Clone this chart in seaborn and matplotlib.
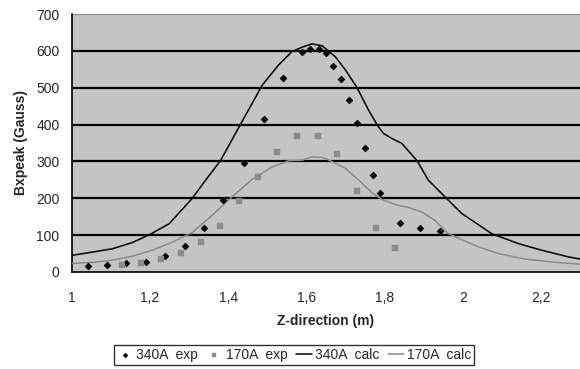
import numpy as np
import pandas as pd
import matplotlib
matplotlib.use("Agg")
import matplotlib.pyplot as plt
import seaborn as sns
from matplotlib.ticker import FuncFormatter, MultipleLocator

# --- data ---
exp340_z = [1.04, 1.089, 1.139, 1.19, 1.238, 1.289, 1.338, 1.387, 1.44, 1.491, 1.54,
            1.589, 1.61, 1.631, 1.649, 1.669, 1.689, 1.709, 1.73, 1.75, 1.77, 1.789,
            1.839, 1.89, 1.941]
exp340_b = [16, 18, 23, 28, 43, 70, 120, 195, 296, 414, 526,
            598, 605, 605, 593, 559, 523, 468, 405, 337, 263, 215,
            134, 120, 111]

exp170_z = [1.127, 1.177, 1.229, 1.279, 1.329, 1.378, 1.427, 1.477, 1.526, 1.575,
            1.629, 1.679, 1.729, 1.778, 1.827]
exp170_b = [20, 24, 34, 52, 80, 126, 192, 258, 326, 370,
            370, 320, 219, 120, 64]

calc340_z = [1.0, 1.053, 1.104, 1.155, 1.2, 1.249, 1.308, 1.342, 1.38, 1.431, 1.487,
             1.529, 1.563, 1.589, 1.614, 1.64, 1.674, 1.7, 1.729, 1.759, 1.783, 1.797,
             1.819, 1.844, 1.883, 1.912, 1.959, 1.997, 2.074, 2.142, 2.202, 2.27, 2.3]
calc340_b = [45, 54, 63, 80, 102, 131, 200, 249, 302, 400, 507,
             562, 598, 610, 619, 614, 584, 548, 501, 439, 396, 376,
             362, 349, 302, 249, 199, 159, 104, 77, 59, 41, 35]

calc170_z = [1.0, 1.053, 1.104, 1.155, 1.2, 1.249, 1.308, 1.359, 1.41, 1.461, 1.512,
             1.555, 1.589, 1.614, 1.64, 1.661, 1.7, 1.734, 1.768, 1.793, 1.827, 1.861,
             1.895, 1.929, 1.963, 1.997, 2.04, 2.091, 2.159, 2.227, 2.3]
calc170_b = [23, 26, 32, 43, 57, 77, 107, 154, 204, 251, 285,
             302, 303, 312, 311, 302, 281, 249, 215, 197, 183, 175,
             163, 140, 104, 88, 68, 50, 35, 27, 21]

x_ticks = [1.0, 1.2, 1.4, 1.6, 1.8, 2.0, 2.2]
y_ticks = [0, 100, 200, 300, 400, 500, 600, 700]

# --- plotting ---
sns.set_style("white")
plt.rcParams["font.family"] = ["Liberation Sans", "DejaVu Sans"]

fig = plt.figure(figsize=(5.8, 3.69), dpi=100)
ax = fig.add_axes([0.124, 0.263, 0.876, 0.699])
ax.set_facecolor("#c4c4c4")

sns.lineplot(x=calc340_z, y=calc340_b, ax=ax, color="black", linewidth=1.1,
             label="340A  calc", zorder=3)
sns.lineplot(x=calc170_z, y=calc170_b, ax=ax, color="#8a8a8a", linewidth=1.1,
             label="170A  calc", zorder=3)
sns.scatterplot(x=exp340_z, y=exp340_b, ax=ax, marker="D", s=13, color="black",
                edgecolor="black", label="340A  exp", zorder=4)
sns.scatterplot(x=exp170_z, y=exp170_b, ax=ax, marker="s", s=13, color="#8c8c8c",
                edgecolor="#8c8c8c", label="170A  exp", zorder=4)

ax.set_xlim(1.0, 2.3)
ax.set_ylim(0, 700)
ax.set_xticks(x_ticks)
ax.set_yticks(y_ticks)
ax.xaxis.set_major_formatter(FuncFormatter(lambda v, p: ("%g" % round(v, 1)).replace(".", ",")))

for yv in y_ticks[1:-1]:
    ax.axhline(yv, color="black", linewidth=1.6, zorder=1)
ax.axhline(700, color="#8e8e8e", linewidth=1.6, zorder=1)

for s in ["top", "right"]:
    ax.spines[s].set_visible(False)
for s in ["left", "bottom"]:
    ax.spines[s].set_color("black")
    ax.spines[s].set_linewidth(1.2)

ax.tick_params(axis="both", direction="out", length=5, width=1.2, color="black",
               labelsize=10, pad=4)
ax.tick_params(axis="x", pad=9)

ax.set_xlabel("Z-direction (m)", fontsize=10, fontweight="bold", labelpad=6)
ax.set_ylabel("Bxpeak (Gauss)", fontsize=10, fontweight="bold", labelpad=6)

handles, labels = ax.get_legend_handles_labels()
order = [labels.index(l) for l in ["340A  exp", "170A  exp", "340A  calc", "170A  calc"]]
leg = fig.legend([handles[i] for i in order], [labels[i] for i in order],
                 loc="center", bbox_to_anchor=(294 / 580, 1 - 355 / 369), ncol=4,
                 frameon=True, fancybox=False, edgecolor="black", fontsize=10,
                 handlelength=1.2, handletextpad=0.2, columnspacing=0.6,
                 borderpad=0.2, markerscale=0.7)
leg.get_frame().set_linewidth(1.0)
if ax.get_legend():
    ax.get_legend().remove()

fig.savefig("out.png", dpi=100)
